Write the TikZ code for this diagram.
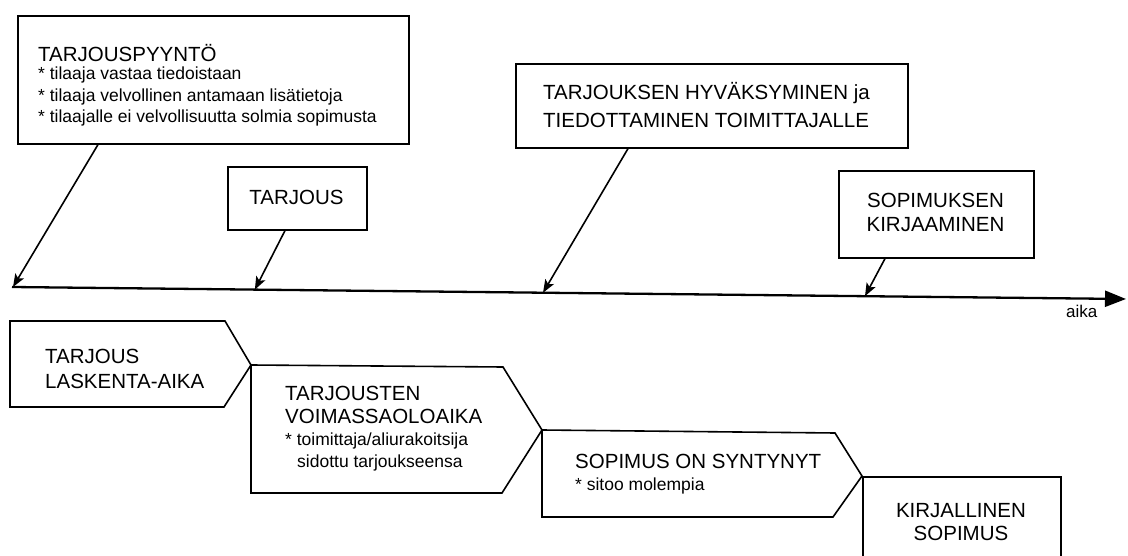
\documentclass[tikz,border=0pt]{standalone}
\usepackage{fontspec}
\setmainfont{Liberation Sans}
\usetikzlibrary{arrows.meta,calc}
\begin{document}
\begin{tikzpicture}[x=1pt,y=-1pt,
  boxshape/.style={draw, line width=1.6pt, inner sep=0pt, anchor=north west},
  captext/.style={font=\fontsize{20.5}{24}\selectfont, inner sep=0pt, anchor=base west},
  captextc/.style={captext, anchor=base},
  smalltext/.style={font=\fontsize{17.5}{21}\selectfont, inner sep=0pt, anchor=base west},
  ptr/.style={line width=1.6pt, -{Stealth[length=13pt,width=10pt,inset=3pt]}},
  chev/.style={draw, line width=1.6pt, line join=miter},
  axisline/.style={line width=2.3pt, -{Triangle[length=21pt,width=16pt]}}]
\useasboundingbox (0,0) rectangle (1128,556);

% --- top boxes
\node[boxshape, minimum width=391pt, minimum height=128pt] (req) at (17,15) {};
\node[captext] (reqT) at (38,62) {TARJOUSPYYNTÖ};
\node[smalltext] (req1) at (38,80) {* tilaaja vastaa tiedoistaan};
\node[smalltext] (req2) at (38,101.5) {* tilaaja velvollinen antamaan lisätietoja};
\node[smalltext] (req3) at (38,123) {* tilaajalle ei velvollisuutta solmia sopimusta};

\node[boxshape, minimum width=139pt, minimum height=63pt] (bid) at (227,166) {};
\node[captextc] (bidT) at (296.5,205) {TARJOUS};

\node[boxshape, minimum width=392pt, minimum height=84pt] (acc) at (515,63) {};
\node[captext] (acc1) at (543,100) {TARJOUKSEN HYVÄKSYMINEN ja};
\node[captext] (acc2) at (543,128) {TIEDOTTAMINEN TOIMITTAJALLE};

\node[boxshape, minimum width=195pt, minimum height=87pt] (rec) at (838,170) {};
\node[captextc] (rec1) at (935.5,208) {SOPIMUKSEN};
\node[captextc] (rec2) at (935.5,232) {KIRJAAMINEN};

% --- time axis
\coordinate (a0) at (12,287);
\coordinate (a1) at (1126,299);
\draw[axisline] (a0) -- (a1);
\node[font=\fontsize{17}{20}\selectfont, inner sep=0pt, anchor=base west] (aika) at (1066,318) {aika};

\coordinate (t1) at ($(a0)+(1,0)$);
\coordinate (t2) at ($(a0)!0.218!(a1)$);
\coordinate (t3) at ($(a0)!0.4767!(a1)$);
\coordinate (t4) at ($(a0)!0.7657!(a1)$);

\draw[ptr] ($(req.south west)+(81,0)$) -- (t1);
\draw[ptr] ($(bid.south west)+(58,0)$) -- (t2);
\draw[ptr] ($(acc.south west)+(113,0)$) -- (t3);
\draw[ptr] ($(rec.south west)+(47,0)$) -- (t4);

% --- bottom chevrons
\draw[chev] (10,321) coordinate (c1a) -- (225,321) -- (251,365) coordinate (p1)
  -- (224,407) -- (10,407) -- cycle;
\node[captext] (c1t1) at (45,363) {TARJOUS};
\node[captext] (c1t2) at (45,388) {LASKENTA-AIKA};

\draw[chev] (p1) -- (503,367) -- (542,430) coordinate (p2)
  -- (502,493) -- (251,493) -- cycle;
\node[captext] (c2t1) at (285,400) {TARJOUSTEN};
\node[captext] (c2t2) at (285,423) {VOIMASSAOLOAIKA};
\node[smalltext] (c2t3) at (285,445) {* toimittaja/aliurakoitsija};
\node[smalltext] (c2t4) at (297,467) {sidottu tarjoukseensa};

\draw[chev] (p2) -- (835,433) -- (862,476) coordinate (p3)
  -- (833,517) -- (542,517) -- cycle;
\node[captext] (c3t1) at (575,468) {SOPIMUS ON SYNTYNYT};
\node[smalltext] (c3t2) at (575,490) {* sitoo molempia};

\node[boxshape, minimum width=198pt, minimum height=85pt] (wri) at (p3) {};
\node[captextc] (wri1) at (961,517) {KIRJALLINEN};
\node[captextc] (wri2) at (961,540) {SOPIMUS};
\end{tikzpicture}
\end{document}
